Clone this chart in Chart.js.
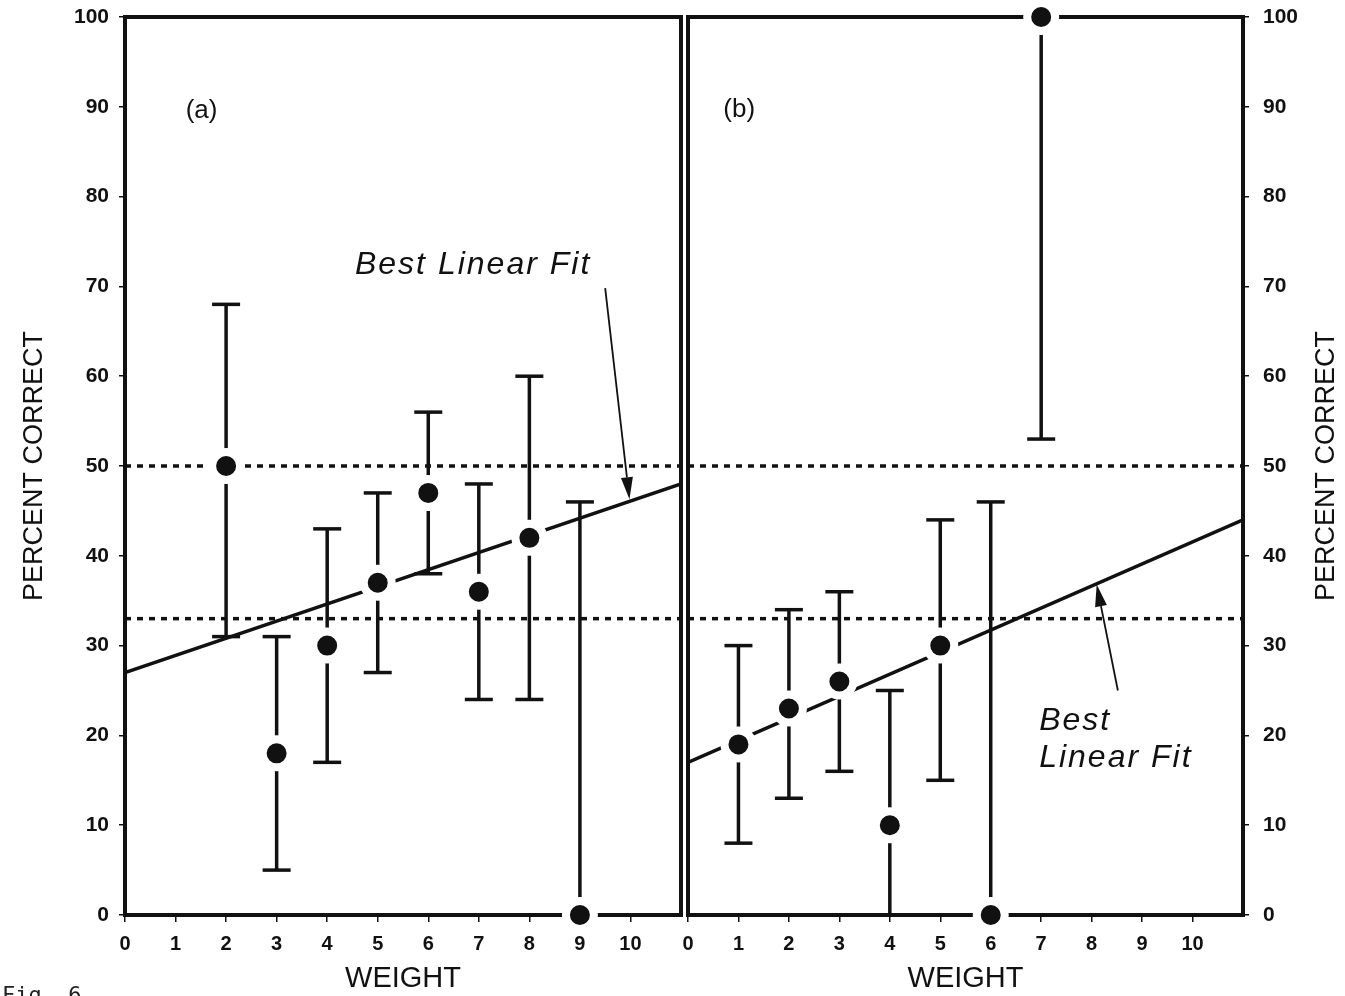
<!DOCTYPE html>
<html>
<head>
<meta charset="utf-8">
<script src="https://cdn.jsdelivr.net/npm/chart.js@4.4.1/dist/chart.umd.min.js"></script>
<style>
  html, body { margin: 0; padding: 0; background: #fff; overflow: hidden; }
  #wrap { position: relative; width: 1345px; height: 996px; }
  .panel { position: absolute; top: 0; height: 996px; }
  #panelA { left: 0; width: 684px; }
  #panelB { left: 660px; width: 685px; }
  #fig { position: absolute; left: 2px; top: 982px; font: 22px "DejaVu Sans Mono", monospace; color: #222; }
</style>
</head>
<body>
<div id="wrap">
  <div class="panel" id="panelA"><canvas id="chartA"></canvas></div>
  <div class="panel" id="panelB"><canvas id="chartB"></canvas></div>
  <div id="fig">Fig. 6</div>
</div>
<script>
// ===============================
// Data
// ===============================
const weightTicks = [0, 1, 2, 3, 4, 5, 6, 7, 8, 9, 10];
const chanceLevels = [50, 33];

// panel (a)
const weightsA = [2, 3, 4, 5, 6, 7, 8, 9];
const meanA = [50, 18, 30, 37, 47, 36, 42, 0];
const lowA = [31, 5, 17, 27, 38, 24, 24, 0];
const highA = [68, 31, 43, 47, 56, 48, 60, 46];
const fitA = [27, 48]; // at weight 0 and 11

// panel (b)
const weightsB = [1, 2, 3, 4, 5, 6, 7];
const meanB = [19, 23, 26, 10, 30, 0, 100];
const lowB = [8, 13, 16, 0, 15, 0, 53];
const highB = [30, 34, 36, 25, 44, 46, 100];
const fitB = [17, 44];

// ===============================
// Helpers
// ===============================
const BLACK = "#111";
const FONT = "'Liberation Sans', Arial, sans-serif";

const drawArrow = (ctx, x1, y1, x2, y2) => {
  const ang = Math.atan2(y2 - y1, x2 - x1);
  const len = 22, half = 6;
  ctx.save();
  ctx.strokeStyle = BLACK;
  ctx.fillStyle = BLACK;
  ctx.lineWidth = 1.8;
  ctx.beginPath();
  ctx.moveTo(x1, y1);
  ctx.lineTo(x2 - Math.cos(ang) * len, y2 - Math.sin(ang) * len);
  ctx.stroke();
  ctx.beginPath();
  ctx.moveTo(x2, y2);
  ctx.lineTo(x2 - Math.cos(ang) * len - Math.sin(ang) * half, y2 - Math.sin(ang) * len + Math.cos(ang) * half);
  ctx.lineTo(x2 - Math.cos(ang) * len + Math.sin(ang) * half, y2 - Math.sin(ang) * len - Math.cos(ang) * half);
  ctx.closePath();
  ctx.fill();
  ctx.restore();
};

// error bars, chance lines and the frame go under the dots
const panelPlugin = {
  id: "panel",
  beforeDatasetsDraw(chart, args, opts) {
    const { ctx, chartArea: a, scales: { x, y } } = chart;
    ctx.save();

    // dotted chance lines
    ctx.strokeStyle = BLACK;
    ctx.lineWidth = 3.5;
    ctx.setLineDash([6, 6]);
    chanceLevels.forEach(v => {
      ctx.beginPath();
      ctx.moveTo(a.left, y.getPixelForValue(v));
      ctx.lineTo(a.right, y.getPixelForValue(v));
      ctx.stroke();
    });
    ctx.setLineDash([]);

    // error bars
    ctx.lineWidth = 3.5;
    opts.xs.forEach((w, i) => {
      const px = x.getPixelForValue(w);
      const lo = y.getPixelForValue(opts.low[i]);
      const hi = y.getPixelForValue(opts.high[i]);
      ctx.beginPath();
      ctx.moveTo(px, lo);
      ctx.lineTo(px, hi);
      ctx.stroke();
      [opts.low[i], opts.high[i]].forEach(v => {
        if (v <= 0 || v >= 100) return;
        const py = y.getPixelForValue(v);
        ctx.beginPath();
        ctx.moveTo(px - 14, py);
        ctx.lineTo(px + 14, py);
        ctx.stroke();
      });
    });

    // frame
    ctx.lineWidth = 4;
    ctx.strokeRect(a.left, a.top, a.right - a.left, a.bottom - a.top);
    ctx.restore();
  },
  afterDraw(chart, args, opts) {
    const { ctx, scales: { x, y } } = chart;
    ctx.save();
    ctx.fillStyle = BLACK;
    ctx.textBaseline = "alphabetic";
    ctx.textAlign = "left";

    // panel letter
    ctx.font = `26px ${FONT}`;
    ctx.fillText(opts.letter, x.getPixelForValue(opts.letterPos[0]), y.getPixelForValue(opts.letterPos[1]));

    // "Best Linear Fit"
    ctx.font = `italic 32px ${FONT}`;
    ctx.letterSpacing = "2px";
    opts.label.forEach(([t, lx, ly]) => {
      ctx.fillText(t, x.getPixelForValue(lx), y.getPixelForValue(ly));
    });
    ctx.letterSpacing = "0px";

    const [ax1, ay1, ax2, ay2] = opts.arrow;
    drawArrow(ctx, x.getPixelForValue(ax1), y.getPixelForValue(ay1), x.getPixelForValue(ax2), y.getPixelForValue(ay2));

    // right-hand axis title reads bottom to top as on the left
    if (opts.rightTitle) {
      const a = chart.chartArea;
      ctx.translate(chart.width - 18, (a.top + a.bottom) / 2);
      ctx.rotate(-Math.PI / 2);
      ctx.textAlign = "center";
      ctx.textBaseline = "middle";
      ctx.font = `27px ${FONT}`;
      ctx.fillText("PERCENT CORRECT", 0, 0);
    }
    ctx.restore();
  }
};

const makeChart = (canvasId, xs, mean, low, high, fit, side, extra) => {
  const isLeft = side === "left";
  return new Chart(document.getElementById(canvasId), {
    type: "scatter",
    data: {
      datasets: [
        {
          type: "line",
          data: [{ x: 0, y: fit[0] }, { x: 11, y: fit[1] }],
          borderColor: BLACK,
          borderWidth: 3.5,
          pointRadius: 0,
          order: 2
        },
        {
          data: xs.map((w, i) => ({ x: w, y: mean[i] })),
          backgroundColor: BLACK,
          borderColor: "#fff",
          borderWidth: 8,
          pointRadius: 14,
          pointHoverRadius: 14,
          clip: false,
          order: 1
        }
      ]
    },
    options: {
      responsive: true,
      maintainAspectRatio: false,
      animation: false,
      events: [],
      layout: {
        autoPadding: false,
        padding: isLeft ? { top: 17, right: 3, left: 0, bottom: 0 } : { top: 17, right: 0, left: 28, bottom: 0 }
      },
      plugins: {
        legend: { display: false },
        tooltip: { enabled: false },
        panel: { xs, low, high, ...extra }
      },
      scales: {
        x: {
          type: "linear",
          min: 0,
          max: 11,
          afterBuildTicks: axis => { axis.ticks = weightTicks.map(v => ({ value: v })); },
          afterFit: axis => {
            axis.height = 81;
            axis.paddingLeft = 0;
            axis.paddingRight = 0;
          },
          grid: { drawOnChartArea: false, drawTicks: true, tickLength: 7, color: BLACK, lineWidth: 1.5 },
          border: { display: false },
          ticks: { color: BLACK, font: { family: FONT, size: 20, weight: "bold" }, padding: 10, maxRotation: 0 },
          title: { display: true, text: "WEIGHT", color: BLACK, font: { family: FONT, size: 29 }, padding: { top: 0, bottom: 0 } }
        },
        y: {
          position: isLeft ? "left" : "right",
          min: 0,
          max: 100,
          afterFit: axis => {
            axis.width = isLeft ? 125 : 102;
            axis.paddingTop = 0;
            axis.paddingBottom = 0;
          },
          grid: { drawOnChartArea: false, drawTicks: true, tickLength: 6, color: BLACK, lineWidth: 1.5 },
          border: { display: false },
          ticks: { stepSize: 10, color: BLACK, font: { family: FONT, size: 21, weight: "bold" }, padding: isLeft ? 10 : 14 },
          title: { display: isLeft, text: "PERCENT CORRECT", color: BLACK, font: { family: FONT, size: 27 }, padding: { top: 18, bottom: 0 } }
        }
      }
    },
    plugins: [panelPlugin]
  });
};

// ===============================
// Render
// ===============================
makeChart("chartA", weightsA, meanA, lowA, highA, fitA, "left", {
  letter: "(a)",
  letterPos: [1.2, 88.8],
  label: [["Best Linear Fit", 4.55, 71.4]],
  arrow: [9.5, 69.8, 9.98, 46.3]
});

makeChart("chartB", weightsB, meanB, lowB, highB, fitB, "right", {
  letter: "(b)",
  letterPos: [0.7, 88.9],
  label: [["Best", 6.96, 20.6], ["Linear Fit", 6.96, 16.5]],
  arrow: [8.52, 25, 8.1, 36.8],
  rightTitle: true
});
</script>
</body>
</html>
